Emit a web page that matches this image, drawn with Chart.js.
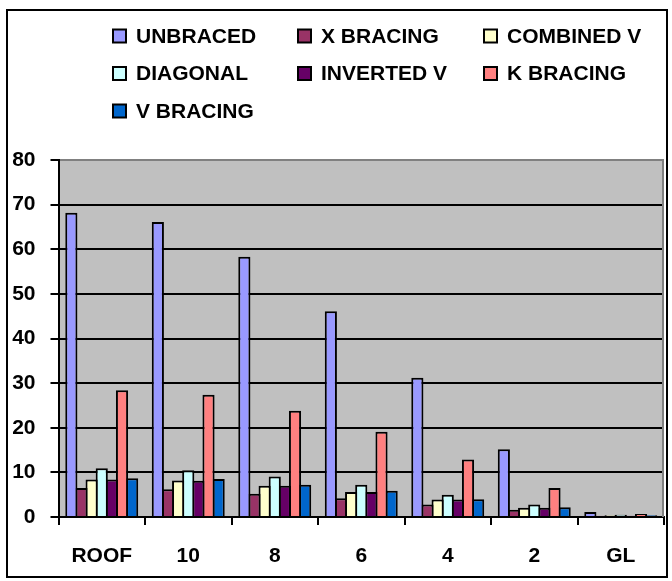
<!DOCTYPE html>
<html>
<head>
<meta charset="utf-8">
<script src="https://cdn.jsdelivr.net/npm/chart.js@4/dist/chart.umd.min.js"></script>
<style>
  html, body { margin: 0; padding: 0; background: #ffffff; }
  #wrap { width: 672px; height: 581px; position: relative; }
</style>
</head>
<body>
<div id="wrap"><canvas id="chart" width="672" height="581"></canvas></div>
<script>
// Storey levels along the x axis
const storeys = ['ROOF', '10', '8', '6', '4', '2', 'GL'];

// Values per bracing system, one per storey
const unbraced    = [68.2, 66.1, 58.3, 46.1, 31.2, 15.2, 1.1];
const xBracing    = [6.5, 6.2, 5.2, 4.2, 2.8, 1.6, 0.3];
const combinedV   = [8.4, 8.2, 7.0, 5.6, 3.9, 2.1, 0.4];
const diagonal    = [10.9, 10.5, 9.1, 7.2, 5.0, 2.8, 0.5];
const invertedV   = [8.4, 8.1, 7.0, 5.6, 3.9, 2.1, 0.3];
const kBracing    = [28.4, 27.4, 23.8, 19.1, 12.9, 6.5, 0.7];
const vBracing    = [8.7, 8.5, 7.2, 5.9, 4.0, 2.2, 0.4];

// Y axis range
const yMin = 0, yMax = 80, yStep = 10;

const FONT = { family: "'Liberation Sans', Arial, sans-serif", size: 21, weight: 'bold' };

const series = [
  { label: 'UNBRACED',   data: unbraced,  color: '#9999FF' },
  { label: 'X BRACING',  data: xBracing,  color: '#993366' },
  { label: 'COMBINED V', data: combinedV, color: '#FFFFCC' },
  { label: 'DIAGONAL',   data: diagonal,  color: '#CCFFFF' },
  { label: 'INVERTED V', data: invertedV, color: '#660066' },
  { label: 'K BRACING',  data: kBracing,  color: '#FF8080' },
  { label: 'V BRACING',  data: vBracing,  color: '#0066CC' }
];

// Grey plot background, frame around the whole chart, grey right edge of plot
const framePlugin = {
  id: 'frame',
  beforeDraw(chart) {
    const { ctx, chartArea: a } = chart;
    ctx.save();
    ctx.fillStyle = '#ffffff';
    ctx.fillRect(0, 0, chart.width, chart.height);
    ctx.fillStyle = '#c0c0c0';
    ctx.fillRect(a.left, a.top, a.right - a.left, a.bottom - a.top);
    ctx.strokeStyle = '#000000';
    ctx.lineWidth = 2;
    ctx.strokeRect(7, 10, 660, 567);
    ctx.restore();
  },
  beforeDatasetsDraw(chart) {
    const { ctx, chartArea: a } = chart;
    ctx.save();
    ctx.strokeStyle = '#808080';
    ctx.lineWidth = 2;
    ctx.beginPath();
    ctx.moveTo(a.right - 1, a.top);
    ctx.lineTo(a.right - 1, a.bottom);
    ctx.stroke();
    ctx.restore();
  }
};

// Three-column legend above the plot
const gridLegend = {
  id: 'gridLegend',
  afterDraw(chart) {
    const { ctx } = chart;
    const colX = [113, 298, 484];
    const rowY = [36, 73.5, 111];
    const box = 13;
    ctx.save();
    ctx.font = `${FONT.weight} ${FONT.size}px ${FONT.family}`;
    ctx.textBaseline = 'middle';
    ctx.textAlign = 'left';
    chart.data.datasets.forEach((ds, i) => {
      const x = colX[i % 3];
      const y = rowY[Math.floor(i / 3)];
      ctx.fillStyle = ds.backgroundColor;
      ctx.fillRect(x, y - box / 2, box, box);
      ctx.strokeStyle = '#000000';
      ctx.lineWidth = 2;
      ctx.strokeRect(x, y - box / 2, box, box);
      ctx.fillStyle = '#000000';
      ctx.fillText(ds.label, x + 23, y + 1);
    });
    ctx.restore();
  }
};

new Chart(document.getElementById('chart'), {
  type: 'bar',
  data: {
    labels: storeys,
    datasets: series.map(s => ({
      label: s.label,
      data: s.data,
      backgroundColor: s.color,
      borderColor: '#000000',
      borderWidth: 2,
      borderSkipped: 'start',
      categoryPercentage: 0.82,
      barPercentage: 1.2
    }))
  },
  options: {
    responsive: false,
    animation: false,
    devicePixelRatio: 1,
    layout: { padding: { top: 160, right: 8, left: 0, bottom: 0 } },
    plugins: {
      legend: { display: false },
      tooltip: { enabled: false }
    },
    scales: {
      x: {
        afterFit(scale) { scale.height = 64; },
        grid: {
          offset: true,
          drawOnChartArea: false,
          drawTicks: true,
          tickLength: 8,
          tickColor: '#000000',
          lineWidth: 2
        },
        border: { display: true, color: '#000000', width: 2 },
        ticks: { color: '#000000', font: FONT, padding: 19 }
      },
      y: {
        min: yMin,
        max: yMax,
        afterFit(scale) { scale.width = 58.5; },
        grid: {
          color: ctx => (ctx.tick && ctx.tick.value === yMax) ? '#808080' : '#000000',
          lineWidth: 2,
          drawTicks: true,
          tickLength: 8,
          tickColor: '#000000'
        },
        border: { display: true, color: '#000000', width: 2 },
        ticks: { stepSize: yStep, color: '#000000', font: FONT, padding: 15 }
      }
    }
  },
  plugins: [framePlugin, gridLegend]
});
</script>
</body>
</html>
